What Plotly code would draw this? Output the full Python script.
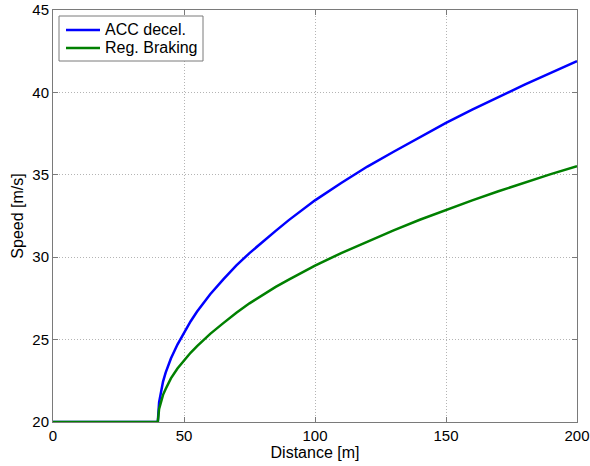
import plotly.graph_objects as go

# Distance along the road [m]
distance = [0, 10, 20, 30, 40, 40.5, 41, 42, 43, 44, 45, 47.5, 50, 52.5, 55, 57.5, 60, 65, 70,
            75, 80, 85, 90, 95, 100, 110, 120, 130, 140, 150, 160, 170, 180, 190, 200]

# Speed profile with ACC deceleration [m/s]
speed_acc = [20, 20, 20, 20, 20, 21.2, 21.7, 22.45, 23.0, 23.45, 23.85, 24.7, 25.4, 26.1, 26.7,
             27.25, 27.75, 28.65, 29.5, 30.25, 30.95, 31.6, 32.25, 32.85, 33.45, 34.5, 35.5,
             36.4, 37.3, 38.15, 38.95, 39.72, 40.47, 41.19, 41.9]

# Speed profile with regenerative braking [m/s]
speed_regen = [20, 20, 20, 20, 20, 20.8, 21.15, 21.65, 22.0, 22.35, 22.65, 23.25, 23.76, 24.2,
               24.6, 24.98, 25.35, 26.0, 26.63, 27.2, 27.7, 28.2, 28.64, 29.07, 29.49, 30.25,
               30.96, 31.63, 32.27, 32.87, 33.45, 34.0, 34.53, 35.04, 35.53]

series_names = ["ACC decel.", "Reg. Braking"]
series_colors = ["#0000ff", "#008000"]

x_ticks = [0, 50, 100, 150, 200]
y_ticks = [20, 25, 30, 35, 40, 45]

FONT = "Liberation Sans, Arial, sans-serif"
FS = 16
TICK_FS = 15
AXIS_GRAY = "#7a7a7a"

# Figure geometry (pixels)
W, H = 590, 466
ML, MR, MT, MB = 53, 13, 10, 44
PW, PH = W - ML - MR, H - MT - MB


def px_to_paper(px, py):
    """Convert a pixel position on the page into paper coordinates."""
    return (px - ML) / PW, (H - MB - py) / PH


fig = go.Figure()
for yvals, name, color in zip([speed_acc, speed_regen], series_names, series_colors):
    fig.add_trace(go.Scatter(x=distance, y=yvals, mode="lines", name=name,
                             line=dict(color=color, width=2.5), showlegend=False))

axis_common = dict(
    showline=True, linecolor=AXIS_GRAY, linewidth=1, mirror="allticks",
    ticks="inside", ticklen=5, tickcolor=AXIS_GRAY, tickwidth=1,
    showgrid=True, gridcolor="#b4b4b4", griddash="1px,2px", gridwidth=1,
    zeroline=False, automargin=False,
    tickfont=dict(family=FONT, size=TICK_FS, color="black"),
)

fig.update_xaxes(range=[0, 200], tickvals=x_ticks,
                 title=dict(text="Distance [m]", font=dict(family=FONT, size=FS, color="black"),
                            standoff=1),
                 **axis_common)
fig.update_yaxes(range=[20, 45], tickvals=y_ticks,
                 title=dict(text="Speed [m/s]", font=dict(family=FONT, size=FS, color="black"),
                            standoff=4),
                 **axis_common)

# Legend box drawn in paper space: frame, line samples and labels
shapes = []
annotations = []
bx0, by0 = px_to_paper(59, 61)
bx1, by1 = px_to_paper(203, 16)
shapes.append(dict(type="rect", xref="paper", yref="paper", x0=bx0, y0=by0, x1=bx1, y1=by1,
                   line=dict(color=AXIS_GRAY, width=1), fillcolor="white", layer="above"))
for i, (name, color) in enumerate(zip(series_names, series_colors)):
    row_y = 30 + 18 * i
    lx0, ly = px_to_paper(66, row_y)
    lx1, _ = px_to_paper(100, row_y)
    shapes.append(dict(type="line", xref="paper", yref="paper", x0=lx0, y0=ly, x1=lx1, y1=ly,
                       line=dict(color=color, width=2.5), layer="above"))
    tx, _ = px_to_paper(103, row_y)
    annotations.append(dict(text=name, xref="paper", yref="paper", x=tx, y=ly,
                            xanchor="left", yanchor="middle", showarrow=False,
                            font=dict(family=FONT, size=FS, color="black")))

fig.update_layout(
    width=W, height=H,
    margin=dict(l=ML, r=MR, t=MT, b=MB),
    paper_bgcolor="white", plot_bgcolor="white",
    font=dict(family=FONT, size=FS, color="black"),
    showlegend=False,
    shapes=shapes,
    annotations=annotations,
)

fig.write_html("out.html")
